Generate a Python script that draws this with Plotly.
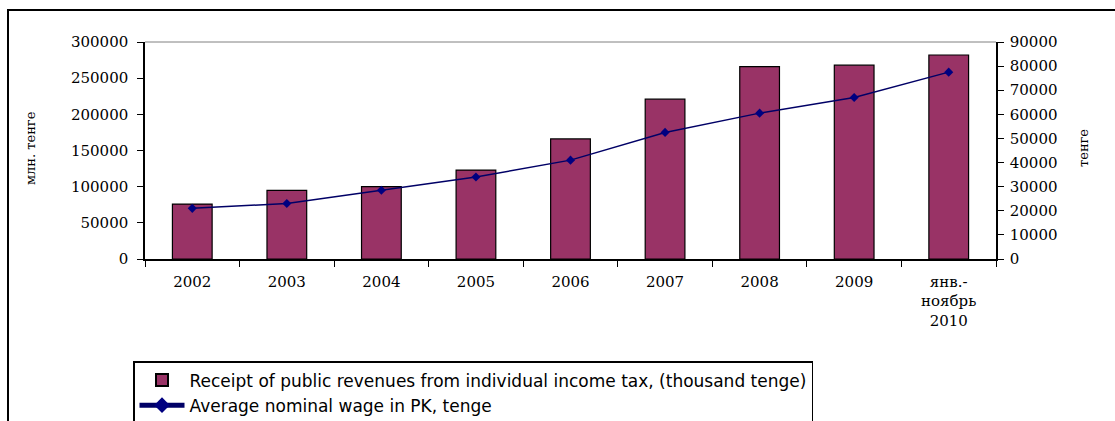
import plotly.graph_objects as go

categories = ["2002", "2003", "2004", "2005", "2006", "2007", "2008", "2009", "янв.-<br>ноябрь<br>2010"]
tax_receipts = [76000, 95000, 100000, 123000, 166000, 221000, 266000, 268000, 282000]
avg_wage = [21000, 23000, 28500, 34000, 41000, 52500, 60500, 67000, 77500]

bar_name = "Receipt of public revenues from individual income tax, (thousand tenge)"
line_name = "Average nominal wage in PK, tenge"
left_title = "млн. тенге"
right_title = "тенге"

serif = "DejaVu Serif"
sans = "DejaVu Sans"

fig = go.Figure()
fig.add_trace(go.Bar(
    x=categories, y=tax_receipts, name=bar_name,
    marker=dict(color="#993366", line=dict(color="#000000", width=1.2)),
    yaxis="y",
))
fig.add_trace(go.Scatter(
    x=categories, y=avg_wage, name=line_name, mode="lines+markers",
    line=dict(color="#000066", width=1.5),
    marker=dict(symbol="diamond", size=7, color="#000080"),
    yaxis="y2",
))

L, R, T, B = 145, 996, 42, 259
W, H = 1115, 421
pw, ph = R - L, B - T

def px(x):
    return (x - L) / pw

def py(y):
    return (B - y) / ph

fig.update_layout(
    width=W, height=H,
    margin=dict(l=L, r=W - R, t=T, b=H - B, pad=0, autoexpand=False),
    paper_bgcolor="white", plot_bgcolor="white",
    bargap=0.58,
    showlegend=True,
    legend=dict(
        x=px(133), y=py(361), xanchor="left", yanchor="top",
        font=dict(family=sans, size=17, color="#000000"),
        bordercolor="#000000", borderwidth=1.5, bgcolor="white",
        tracegroupgap=0, itemsizing="constant", itemwidth=45,
    ),
    xaxis=dict(
        type="category", showline=True, linecolor="#000000", linewidth=1.5,
        ticks="outside", ticklen=6, tickcolor="#000000", tickson="boundaries",
        tickfont=dict(family=serif, size=15, color="#000000"),
        showgrid=False, ticklabelstandoff=8,
    ),
    yaxis=dict(
        range=[0, 300000], dtick=50000, tickformat="d", showline=True, linecolor="#000000", linewidth=1.5,
        ticks="outside", ticklen=6, tickcolor="#000000", showgrid=False, zeroline=False,
        tickfont=dict(family=serif, size=15, color="#000000"), ticklabelstandoff=6,
    ),
    yaxis2=dict(
        range=[0, 90000], dtick=10000, tickformat="d", overlaying="y", side="right",
        showline=True, linecolor="#000000", linewidth=1.5,
        ticks="outside", ticklen=6, tickcolor="#000000", showgrid=False, zeroline=False,
        tickfont=dict(family=serif, size=15, color="#000000"), ticklabelstandoff=3,
    ),
    annotations=[
        dict(text=left_title, x=px(30), y=py(148), xref="paper", yref="paper",
             xanchor="center", yanchor="middle",
             showarrow=False, textangle=-90, font=dict(family=serif, size=13, color="#000000")),
        dict(text=right_title, x=px(1083), y=py(148), xref="paper", yref="paper",
             xanchor="center", yanchor="middle",
             showarrow=False, textangle=-90, font=dict(family=serif, size=13, color="#000000")),
    ],
    shapes=[
        dict(type="line", xref="paper", yref="paper", x0=0, x1=1, y0=1, y1=1,
             line=dict(color="#808080", width=1)),
        dict(type="rect", xref="paper", yref="paper",
             x0=px(8), x1=px(1130), y0=py(440), y1=py(10),
             line=dict(color="#000000", width=2), fillcolor="rgba(0,0,0,0)", layer="below"),
    ],
)

fig.write_html("out.html")
